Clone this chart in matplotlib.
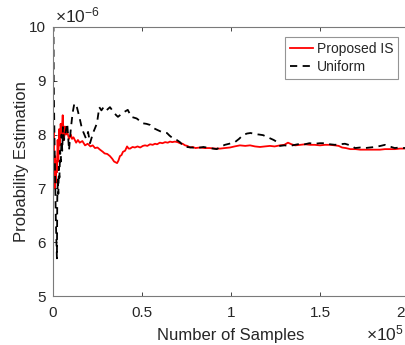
import matplotlib.pyplot as plt
import matplotlib.transforms as mtransforms
import numpy as np

plt.rcParams['font.family'] = ['Liberation Sans', 'DejaVu Sans']
plt.rcParams['mathtext.fontset'] = 'custom'
plt.rcParams['mathtext.rm'] = 'Liberation Sans'
plt.rcParams['mathtext.it'] = 'Liberation Sans'

# number of samples (x 1e5) and running estimate (x 1e-6)
is_x = [0.0, 0.0, 0.002, 0.004, 0.006, 0.009, 0.012, 0.015, 0.018, 0.022, 0.026, 0.030,
        0.034, 0.038, 0.043, 0.048, 0.0545, 0.058, 0.062, 0.067, 0.073, 0.08, 0.09, 0.1,
        0.107, 0.115, 0.13, 0.14, 0.15, 0.165, 0.18, 0.195, 0.21, 0.223, 0.236, 0.25,
        0.264, 0.28, 0.29, 0.305, 0.32, 0.333, 0.343, 0.36, 0.368, 0.376, 0.385, 0.393,
        0.405, 0.416, 0.425, 0.433, 0.447, 0.46, 0.475, 0.49, 0.505, 0.517, 0.53, 0.545,
        0.56, 0.573, 0.585, 0.6, 0.615, 0.63, 0.645, 0.657, 0.67, 0.685, 0.7, 0.713,
        0.728, 0.742, 0.755, 0.77, 0.785, 0.8, 0.826, 0.85, 0.88, 0.91, 0.94, 0.965,
        0.994, 1.02, 1.05, 1.08, 1.107, 1.135, 1.163, 1.19, 1.219, 1.245, 1.275, 1.3,
        1.32, 1.34, 1.36, 1.39, 1.416, 1.445, 1.47, 1.5, 1.528, 1.556, 1.584, 1.605,
        1.624, 1.645, 1.67, 1.7, 1.725, 1.75, 1.78, 1.81, 1.837, 1.865, 1.893, 1.92,
        1.949, 1.975, 2.0]
is_y = [5.0, 7.2, 7.8, 8.1, 7.4, 7.0, 7.6, 7.1, 7.5, 7.3, 7.9, 7.5,
        8.1, 7.8, 8.2, 8.0, 8.36, 8.1, 7.9, 8.15, 8.0, 8.05, 7.92, 8.0,
        7.92, 7.95, 7.85, 7.9, 7.85, 7.88, 7.8, 7.83, 7.78, 7.8, 7.75, 7.76,
        7.72, 7.68, 7.65, 7.64, 7.6, 7.55, 7.5, 7.47, 7.52, 7.6, 7.62, 7.68,
        7.7, 7.78, 7.74, 7.74, 7.77, 7.76, 7.78, 7.76, 7.79, 7.80, 7.79, 7.82,
        7.81, 7.83, 7.82, 7.85, 7.84, 7.86, 7.85, 7.87, 7.86, 7.87, 7.86, 7.84,
        7.83, 7.80, 7.79, 7.76, 7.77, 7.75, 7.76, 7.75, 7.75, 7.74, 7.74, 7.75,
        7.76, 7.78, 7.80, 7.79, 7.80, 7.78, 7.77, 7.78, 7.79, 7.78, 7.80, 7.81,
        7.85, 7.82, 7.80, 7.81, 7.82, 7.81, 7.81, 7.80, 7.81, 7.81, 7.80, 7.79,
        7.76, 7.75, 7.73, 7.73, 7.72, 7.72, 7.72, 7.72, 7.72, 7.73, 7.73, 7.73,
        7.74, 7.74, 7.75]

uni_x = [0.0, 0.004, 0.008, 0.012, 0.016, 0.022, 0.024, 0.027, 0.030, 0.033, 0.036,
         0.040, 0.044, 0.048, 0.052, 0.056, 0.062, 0.07, 0.08, 0.09, 0.1, 0.11, 0.12,
         0.135, 0.15, 0.16, 0.17, 0.185, 0.197, 0.208, 0.225, 0.247, 0.26, 0.272,
         0.284, 0.30, 0.32, 0.34, 0.355, 0.365, 0.376, 0.39, 0.40, 0.42, 0.44, 0.47,
         0.505, 0.525, 0.545, 0.565, 0.584, 0.61, 0.64, 0.655, 0.674, 0.695, 0.713,
         0.73, 0.75, 0.78, 0.81, 0.845, 0.88, 0.92, 0.945, 0.966, 0.99, 1.022, 1.045,
         1.067, 1.09, 1.11, 1.135, 1.16, 1.18, 1.2, 1.22, 1.24, 1.26, 1.275, 1.3,
         1.33, 1.36, 1.39, 1.415, 1.44, 1.47, 1.5, 1.528, 1.556, 1.584, 1.61, 1.64,
         1.67, 1.697, 1.725, 1.753, 1.78, 1.81, 1.84, 1.865, 1.89, 1.92, 1.945, 1.97,
         2.0]
uni_y = [12.0, 9.0, 8.0, 7.2, 6.4, 5.7, 6.8, 7.2, 6.9, 7.4, 7.2,
         7.7, 7.5, 8.0, 7.7, 8.14, 7.9, 8.03, 8.21, 7.71, 8.1, 8.4, 8.58,
         8.5, 8.3, 8.15, 8.05, 7.93, 8.05, 7.84, 8.03, 8.21, 8.51, 8.45,
         8.51, 8.45, 8.51, 8.42, 8.36, 8.33, 8.36, 8.4, 8.42, 8.46, 8.33, 8.3,
         8.21, 8.2, 8.18, 8.12, 8.09, 8.05, 8.03, 7.98, 7.93, 7.9, 7.86,
         7.8, 7.77, 7.76, 7.75, 7.77, 7.75, 7.73, 7.78, 7.81, 7.83, 7.86, 7.92,
         7.99, 8.02, 8.03, 8.01, 8.0, 7.99, 7.96, 7.93, 7.9, 7.86, 7.79, 7.8,
         7.79, 7.81, 7.83, 7.82, 7.84, 7.83, 7.84, 7.84, 7.82, 7.81, 7.82, 7.83,
         7.8, 7.75, 7.76, 7.75, 7.76, 7.77, 7.79, 7.81, 7.78, 7.75, 7.76, 7.75,
         7.76]

x_ticks = [0, 0.5, 1, 1.5, 2]
x_ticklabels = ['0', '0.5', '1', '1.5', '2']
y_ticks = [5, 6, 7, 8, 9, 10]
y_ticklabels = ['5', '6', '7', '8', '9', '10']

axc = '#262626'

fig = plt.figure(figsize=(4.06, 3.45), dpi=100)
ax = fig.add_axes([53/406, 49/345, 356/406, 269/345])

ax.plot(is_x, is_y, color='red', lw=1.3, label='Proposed IS')
ax.plot(uni_x, uni_y, color='black', lw=1.3, ls=(0, (4, 3)), label='Uniform')

ax.set_xlim(0, 2)
ax.set_ylim(5, 10)
ax.set_xticks(x_ticks)
ax.set_xticklabels(x_ticklabels)
ax.set_yticks(y_ticks)
ax.set_yticklabels(y_ticklabels)
ax.tick_params(direction='in', top=True, right=True, length=3, width=0.6,
               colors=axc, labelsize=11)
ax.tick_params(axis='x', pad=7)
ax.tick_params(axis='y', pad=5)
for s in ax.spines.values():
    s.set_color('#7a7a7a')
    s.set_linewidth(0.8)

# last x tick label sits on the figure edge: nudge it inside
last = ax.get_xticklabels()[-1]
last.set_horizontalalignment('right')
last.set_transform(last.get_transform() +
                   mtransforms.ScaledTranslation(-4/100, 0, fig.dpi_scale_trans))

ax.set_xlabel('Number of Samples', fontsize=12, color=axc, labelpad=6)
ax.set_ylabel('Probability Estimation', fontsize=12, color=axc, labelpad=0)

ax.text(0.005, 1.005, r'$\times10^{-6}$', transform=ax.transAxes, fontsize=12.5,
        color=axc, ha='left', va='bottom')
fig.text(404/406, 2/345, r'$\times10^{5}$', fontsize=12.5,
         color=axc, ha='right', va='bottom')

leg = ax.legend(loc='upper right', bbox_to_anchor=(0.969, 0.963), fontsize=10,
                frameon=True, fancybox=False, handlelength=1.7, handletextpad=0.25,
                borderpad=0.35, labelspacing=0.3, borderaxespad=0)
leg.get_frame().set_edgecolor('#7a7a7a')
leg.get_frame().set_linewidth(0.8)
for t in leg.get_texts():
    t.set_color(axc)

fig.savefig('out.png', dpi=100)
